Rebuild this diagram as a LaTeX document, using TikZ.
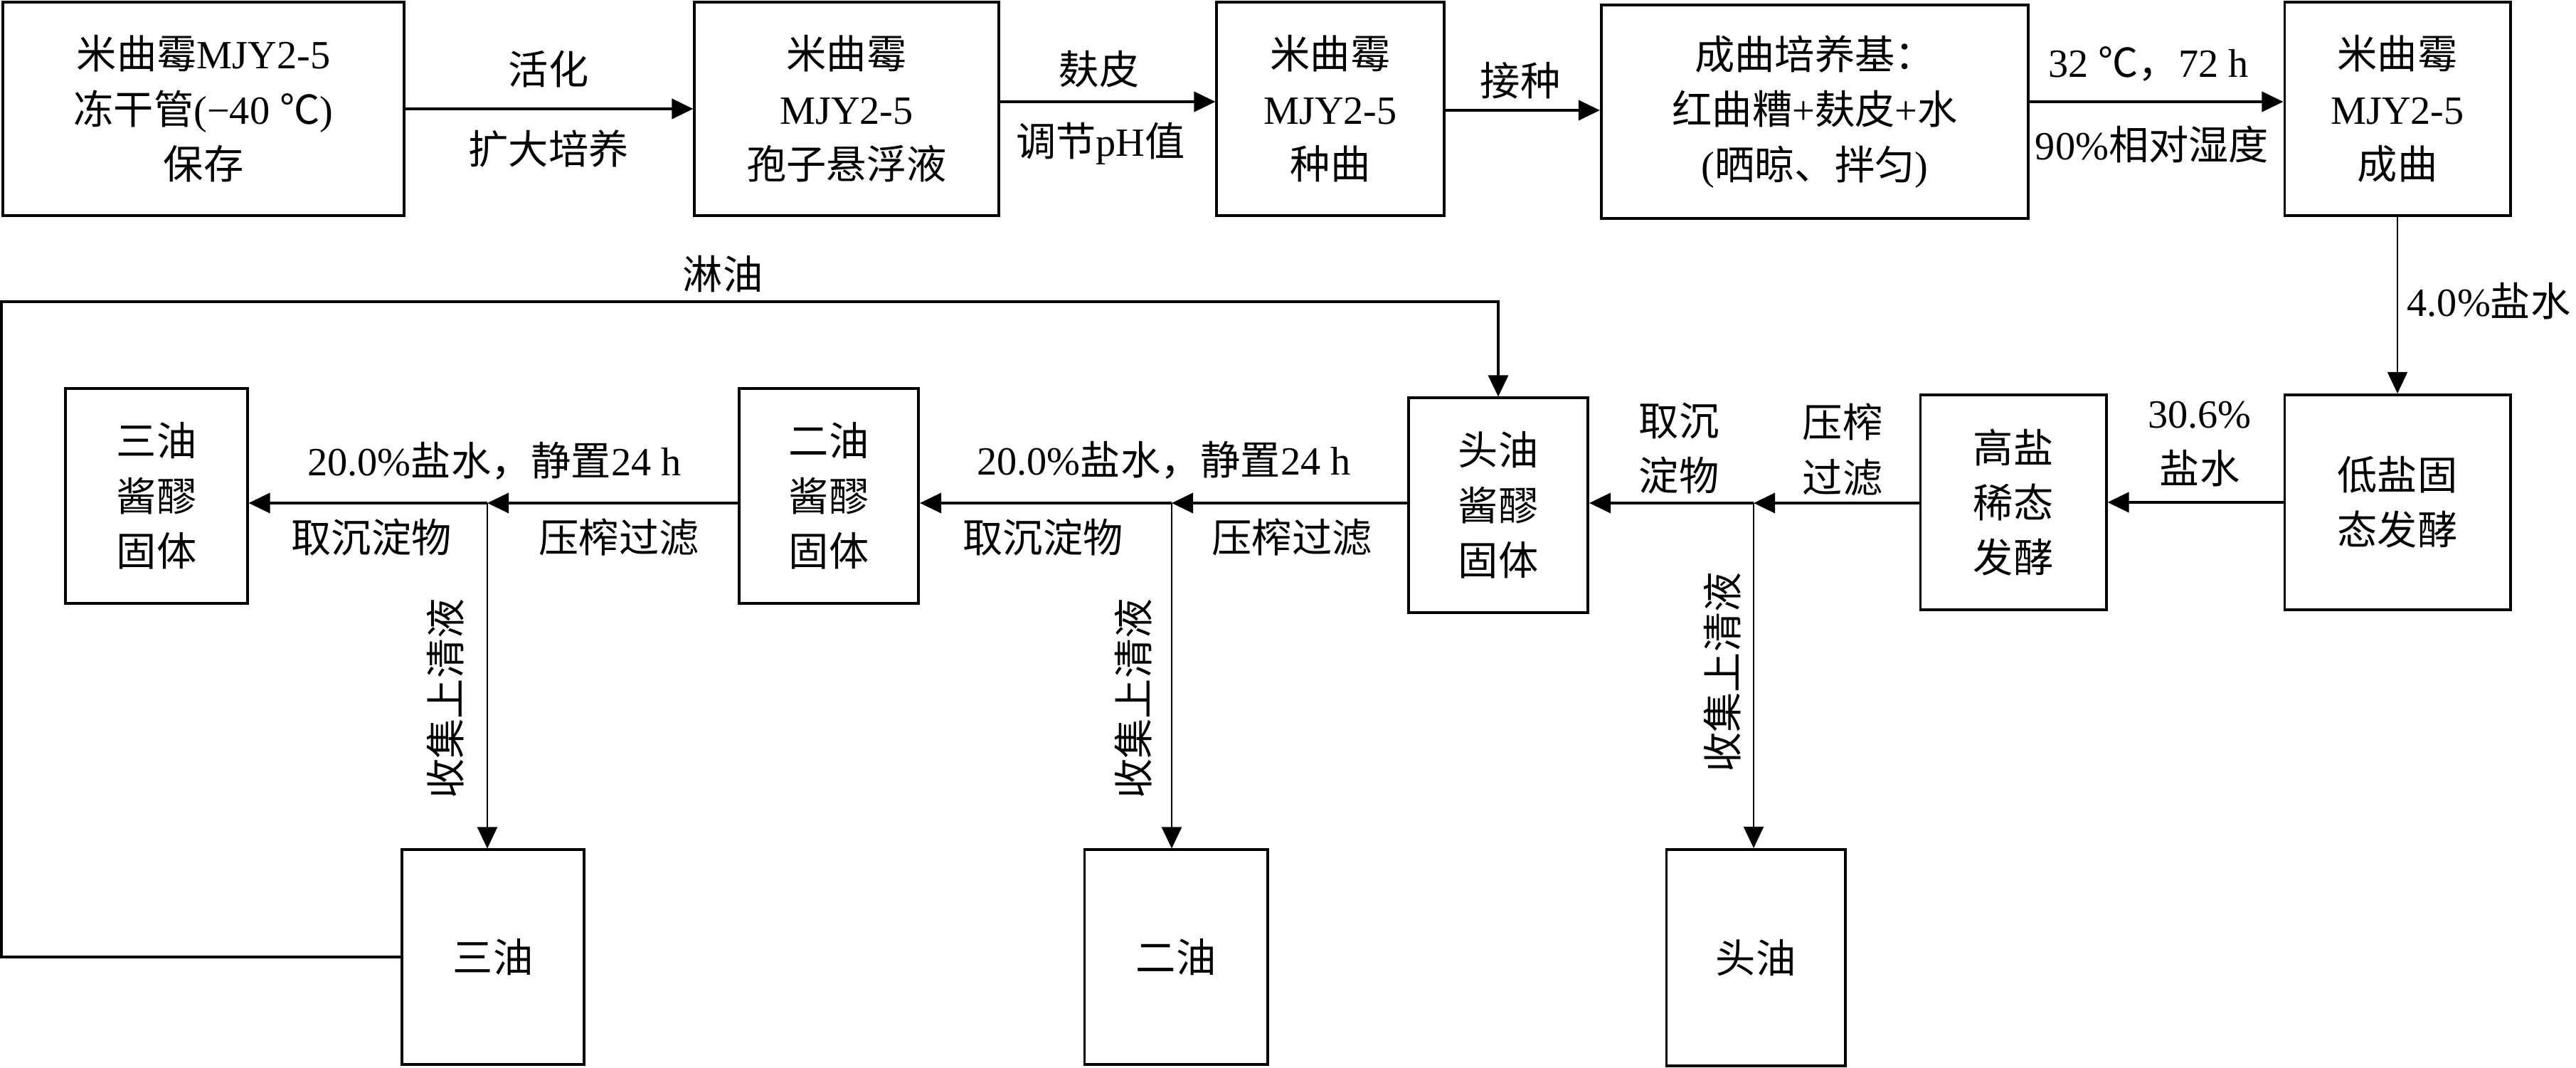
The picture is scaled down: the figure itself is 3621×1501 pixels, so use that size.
\documentclass[tikz,border=0pt]{standalone}
\usepackage{fontspec}
\setmainfont{Liberation Serif}
\newfontfamily\cjk{Noto Sans CJK SC}
\newcommand\zh[1]{{\cjk #1}}
\usetikzlibrary{arrows.meta,calc}
\begin{document}
\begin{tikzpicture}[x=0.01cm,y=-0.01cm,
  font=\fontsize{16}{22}\selectfont,
  box/.style={draw,line width=1.1pt,align=center,inner sep=0pt},
  lab/.style={inner sep=0pt,align=center},
  arr/.style={line width=1.1pt,-{Triangle[length=0.3cm,width=0.28cm]}},
  tarr/.style={line width=0.6pt,-{Triangle[length=0.3cm,width=0.28cm]}},
  loop/.style={line width=0.9pt,-{Triangle[length=0.3cm,width=0.28cm]}},
]
\useasboundingbox[fill=white] (0,0) rectangle (3621,1501);

% top row
\node[box,minimum width=5.63cm,minimum height=2.99cm] (b1) at (286,153) {\zh{米曲霉}MJY2-5\\\zh{冻干管}(−40 \zh{℃})\\\zh{保存}};
\node[box,minimum width=4.27cm,minimum height=2.99cm] (b2) at (1190,153) {\zh{米曲霉}\\MJY2-5\\\zh{孢子悬浮液}};
\node[box,minimum width=3.19cm,minimum height=2.99cm] (b3) at (1870,153) {\zh{米曲霉}\\MJY2-5\\\zh{种曲}};
\node[box,minimum width=6.00cm,minimum height=3.00cm] (b4) at (2551,157) {\zh{成曲培养基：}\\\zh{红曲糟}+\zh{麸皮}+\zh{水}\\(\zh{晒晾、拌匀})};
\node[box,minimum width=3.17cm,minimum height=2.99cm] (b5) at (3370,153) {\zh{米曲霉}\\MJY2-5\\\zh{成曲}};

% middle row
\node[box,minimum width=3.17cm,minimum height=3.02cm] (b6) at (3370,706) {\zh{低盐固}\\\zh{态发酵}};
\node[box,minimum width=2.61cm,minimum height=3.01cm] (b7) at (2830,706) {\zh{高盐}\\\zh{稀态}\\\zh{发酵}};
\node[box,minimum width=2.52cm,minimum height=3.01cm] (b8) at (2106,710) {\zh{头油}\\\zh{酱醪}\\\zh{固体}};
\node[box,minimum width=2.52cm,minimum height=3.02cm] (b9) at (1165,697) {\zh{二油}\\\zh{酱醪}\\\zh{固体}};
\node[box,minimum width=2.55cm,minimum height=3.02cm] (b10) at (220,697) {\zh{三油}\\\zh{酱醪}\\\zh{固体}};

% bottom row
\node[box,minimum width=2.51cm,minimum height=3.04cm] (o1) at (2468,1346) {\zh{头油}};
\node[box,minimum width=2.57cm,minimum height=3.01cm] (o2) at (1653,1345) {\zh{二油}};
\node[box,minimum width=2.56cm,minimum height=3.01cm] (o3) at (693,1345) {\zh{三油}};

% junctions
\coordinate (j1) at (2465,707);
\coordinate (j2) at (1647,707);
\coordinate (j3) at (685,707);
\coordinate (lt) at (2,424);

% top row arrows
\draw[arr] (b1.east) -- (b2.west);
\draw[arr] ($(b2.east)+(0,-10)$) -- ($(b3.west)+(0,-10)$);
\draw[arr] ($(b3.east)+(0,2)$) -- ($(b4.west)+(0,-2)$);
\draw[arr] ($(b4.east)+(0,-14)$) -- ($(b5.west)+(0,-10)$);
\draw[tarr] (b5.south) -- (b6.north);

% middle row arrows
\draw[arr] (b6.west) -- (b7.east);
\draw[arr] (b7.west |- j1) -- (j1);
\draw[arr] (j1) -- (b8.east |- j1);
\draw[tarr] (j1) -- (j1 |- o1.north);
\draw[arr] (b8.west |- j2) -- (j2);
\draw[arr] (j2) -- (b9.east |- j2);
\draw[tarr] (j2) -- (j2 |- o2.north);
\draw[arr] (b9.west |- j3) -- (j3);
\draw[arr] (j3) -- (b10.east |- j3);
\draw[tarr] (j3) -- (j3 |- o3.north);

% recycle loop
\draw[loop] (o3.west) -- (o3.west -| lt) -- (lt) -- (lt -| b8.north) -- (b8.north);

% labels
\node[lab] (l1) at (771,97) {\zh{活化}};
\node[lab] (l2) at (771,209) {\zh{扩大培养}};
\node[lab] (l3) at (1545,97) {\zh{麸皮}};
\node[lab] (l4) at (1547,202) {\zh{调节}pH\zh{值}};
\node[lab] (l5) at (2137,113) {\zh{接种}};
\node[lab] (l6) at (3020,90) {32 \zh{℃，}72 h};
\node[lab] (l7) at (3025,203) {90\%\zh{相对湿度}};
\node[lab,anchor=west] (l8) at (3383,423) {4.0\%\zh{盐水}};
\node[lab] (l9) at (3092,624) {30.6\%\\\zh{盐水}};
\node[lab] (l10) at (2590,632) {\zh{压榨}\\\zh{过滤}};
\node[lab] (l11) at (2360,630) {\zh{取沉}\\\zh{淀物}};
\node[lab,rotate=90] (l12) at (2421,945) {\zh{收集上清液}};
\node[lab] (l13) at (1636,647) {20.0\%\zh{盐水，静置}24 h};
\node[lab] (l14) at (1816,755) {\zh{压榨过滤}};
\node[lab] (l15) at (1466,755) {\zh{取沉淀物}};
\node[lab,rotate=90] (l16) at (1593,982) {\zh{收集上清液}};
\node[lab] (l17) at (695,648) {20.0\%\zh{盐水，静置}24 h};
\node[lab] (l18) at (870,755) {\zh{压榨过滤}};
\node[lab] (l19) at (522,755) {\zh{取沉淀物}};
\node[lab,rotate=90] (l20) at (626,982) {\zh{收集上清液}};
\node[lab] (l21) at (1016,385) {\zh{淋油}};
\end{tikzpicture}
\end{document}
